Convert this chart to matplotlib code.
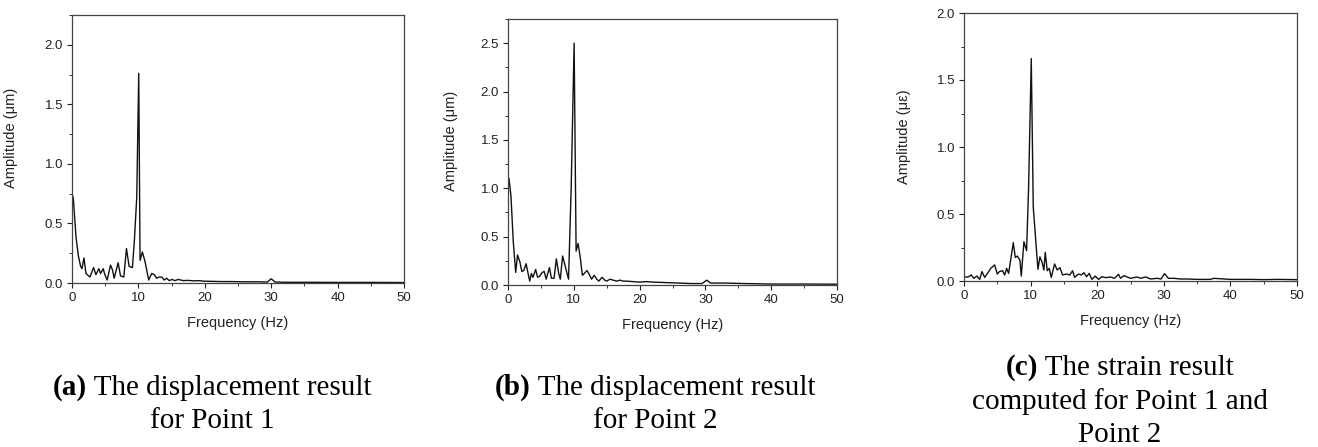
import matplotlib
matplotlib.use("Agg")
import matplotlib.pyplot as plt
from matplotlib.ticker import MultipleLocator

# ---------------- data ----------------
freq_a = [0.0, 0.2, 0.6, 0.95, 1.3, 1.5, 1.8, 2.1, 2.7, 3.25, 3.6, 4.05, 4.3, 4.7, 4.95,
          5.3, 5.8, 6.1, 6.35, 6.95, 7.3, 7.8, 8.2, 8.6, 9.1, 9.4, 9.75, 10.05, 10.25,
          10.6, 11.0, 11.55, 12.0, 12.4, 12.75, 13.1, 13.5, 13.9, 14.25, 14.65, 15.05,
          15.5, 16.0, 16.75, 17.5, 18.3, 19.0, 20.0, 21.0, 22.5, 24.0, 26.0, 28.0,
          29.4, 30.0, 30.6, 32.0, 35.0, 40.0, 45.0, 50.0]
amp_a = [0.75, 0.71, 0.39, 0.23, 0.14, 0.12, 0.21, 0.08, 0.05, 0.13, 0.07, 0.12, 0.08, 0.12, 0.07,
         0.025, 0.15, 0.11, 0.04, 0.17, 0.06, 0.05, 0.29, 0.14, 0.13, 0.36, 0.72, 1.76, 0.19,
         0.26, 0.18, 0.025, 0.08, 0.07, 0.04, 0.05, 0.05, 0.025, 0.04, 0.02, 0.03,
         0.02, 0.03, 0.02, 0.022, 0.018, 0.02, 0.015, 0.014, 0.012, 0.012, 0.01, 0.01,
         0.008, 0.035, 0.008, 0.006, 0.006, 0.005, 0.005, 0.004]

freq_b = [0.15, 0.45, 0.8, 1.17, 1.45, 1.8, 2.1, 2.4, 2.75, 3.05, 3.3, 3.55, 3.8, 4.2, 4.5,
          4.8, 5.2, 5.5, 5.8, 6.3, 6.6, 7.0, 7.35, 7.7, 7.95, 8.3, 8.6, 8.9, 9.2, 9.6,
          10.05, 10.35, 10.65, 10.95, 11.3, 11.6, 12.0, 12.35, 12.7, 13.1, 13.5, 13.8,
          14.3, 14.7, 15.0, 15.5, 16.0, 16.5, 17.0, 17.5, 18.0, 19.0, 20.0, 21.0, 22.0,
          24.0, 26.0, 28.0, 29.5, 30.2, 30.8, 33.0, 36.0, 40.0, 45.0, 50.0]
amp_b = [1.10, 0.92, 0.45, 0.13, 0.31, 0.24, 0.14, 0.15, 0.22, 0.12, 0.04, 0.12, 0.08, 0.16, 0.08,
         0.09, 0.13, 0.14, 0.06, 0.18, 0.07, 0.07, 0.27, 0.12, 0.06, 0.30, 0.22, 0.14, 0.06, 1.0,
         2.50, 0.35, 0.43, 0.30, 0.10, 0.12, 0.15, 0.11, 0.06, 0.10, 0.06, 0.04,
         0.08, 0.05, 0.04, 0.06, 0.05, 0.04, 0.05, 0.04, 0.04, 0.035, 0.03, 0.035, 0.03,
         0.025, 0.02, 0.015, 0.015, 0.05, 0.02, 0.02, 0.015, 0.01, 0.01, 0.008]

freq_c = [0.0, 0.6, 1.1, 1.45, 1.95, 2.35, 2.7, 3.1, 3.6, 4.0, 4.6, 5.0, 5.3, 5.8, 6.1,
          6.4, 6.7, 7.4, 7.7, 8.0, 8.4, 8.6, 9.0, 9.4, 9.7, 10.1, 10.4, 11.1, 11.4,
          11.7, 12.0, 12.2, 12.5, 12.8, 13.1, 13.6, 14.0, 14.4, 14.8, 15.4, 15.9, 16.3,
          16.6, 17.2, 17.65, 18.0, 18.4, 18.8, 19.2, 19.7, 20.2, 20.7, 21.3, 22.0, 22.6,
          23.2, 23.5, 24.0, 25.0, 26.0, 26.5, 27.3, 28.0, 29.0, 29.6, 30.1, 30.7, 31.5,
          32.5, 33.5, 35.0, 37.0, 37.5, 40.0, 43.0, 45.0, 47.0, 50.0]
amp_c = [0.03, 0.03, 0.045, 0.02, 0.037, 0.012, 0.07, 0.027, 0.062, 0.094, 0.12, 0.052, 0.07, 0.077, 0.045,
         0.094, 0.057, 0.286, 0.176, 0.186, 0.156, 0.037, 0.293, 0.226, 0.70, 1.66, 0.55, 0.087, 0.18,
         0.144, 0.082, 0.214, 0.077, 0.094, 0.027, 0.127, 0.082, 0.10, 0.045, 0.052, 0.045, 0.077,
         0.027, 0.052, 0.045, 0.062, 0.032, 0.057, 0.012, 0.037, 0.012, 0.032, 0.025, 0.03, 0.02,
         0.05, 0.02, 0.04, 0.02, 0.03, 0.02, 0.03, 0.015, 0.02, 0.015, 0.055, 0.02, 0.02,
         0.015, 0.015, 0.012, 0.012, 0.02, 0.012, 0.012, 0.01, 0.012, 0.01]

ylabels = ["Amplitude (\u03bcm)", "Amplitude (\u03bcm)", "Amplitude (\u03bc\u03b5)"]
ylims = [2.25, 2.75, 2.0]
caption_tags = ["(a)", "(b)", "(c)"]
caption_lines = [
    [" The displacement result", "for Point 1"],
    [" The displacement result", "for Point 2"],
    [" The strain result", "computed for Point 1 and", "Point 2"],
]

# ---------------- figure ----------------
W, H = 1318, 447
fig = plt.figure(figsize=(W / 100, H / 100), dpi=100)

# pixel boxes: left, right, top, bottom
boxes = [(72, 404, 15, 283), (508, 837, 19, 285), (964, 1297, 13, 281)]
ylab_x = [18, 458, 911]

sans = "Liberation Sans"
serif = "Liberation Serif"

series = [(freq_a, amp_a), (freq_b, amp_b), (freq_c, amp_c)]

for i, ((l, r, t, b), (fx, fy)) in enumerate(zip(boxes, series)):
    ax = fig.add_axes([l / W, 1 - b / H, (r - l) / W, (b - t) / H])
    ax.plot(fx, fy, color="#111111", lw=1.0)
    ax.set_xlim(0, 50)
    ax.set_ylim(0, ylims[i])
    ax.xaxis.set_major_locator(MultipleLocator(10))
    ax.xaxis.set_minor_locator(MultipleLocator(5))
    ax.yaxis.set_major_locator(MultipleLocator(0.5))
    ax.yaxis.set_minor_locator(MultipleLocator(0.25))
    ax.tick_params(which="major", direction="out", length=3.5, width=0.8, pad=3,
                   labelsize=9.5, colors="#222222")
    ax.tick_params(which="minor", direction="out", length=2, width=0.7, colors="#333333")
    for lab in ax.get_xticklabels() + ax.get_yticklabels():
        lab.set_fontfamily(sans)
    for sp in ax.spines.values():
        sp.set_linewidth(0.9)
        sp.set_color("#444444")
    ax.set_xlabel("Frequency (Hz)", fontsize=10.5, family=sans, color="#222222")
    ax.set_ylabel(ylabels[i], fontsize=10.5, family=sans, color="#222222")
    ax.xaxis.set_label_coords(0.5, -0.125)
    ax.yaxis.set_label_coords((ylab_x[i] - l) / (r - l), 0.54)

# ---------------- captions ----------------
cap_centers = [212, 655, 1120]
cap_baselines = [[395, 428], [395, 428], [375, 409, 442]]
fs_cap = 21
renderer = fig.canvas.get_renderer()
for i in range(3):
    lines = caption_lines[i]
    for j, txt in enumerate(lines):
        yb = 1 - cap_baselines[i][j] / H
        if j == 0:
            t1 = fig.text(0, yb, caption_tags[i], fontsize=fs_cap, family=serif,
                          fontweight="bold", va="baseline", ha="left")
            t2 = fig.text(0, yb, txt, fontsize=fs_cap, family=serif,
                          va="baseline", ha="left")
            w1 = t1.get_window_extent(renderer).width
            w2 = t2.get_window_extent(renderer).width
            x0 = cap_centers[i] - (w1 + w2) / 2
            t1.set_x(x0 / W)
            t2.set_x((x0 + w1) / W)
        else:
            fig.text(cap_centers[i] / W, yb, txt, fontsize=fs_cap, family=serif,
                     va="baseline", ha="center")

fig.savefig("out.png", dpi=100)
